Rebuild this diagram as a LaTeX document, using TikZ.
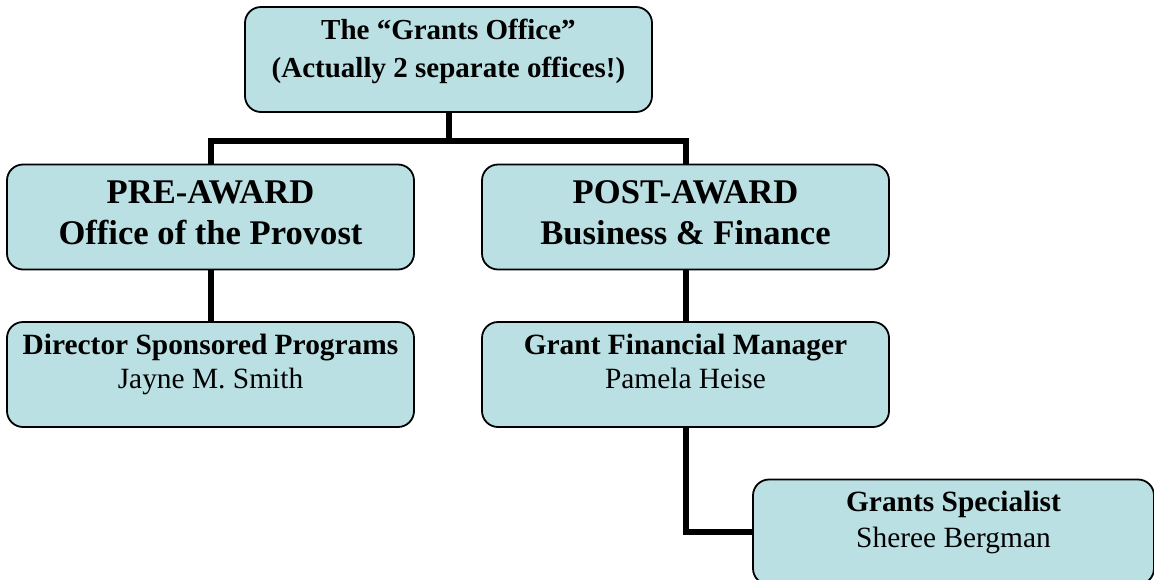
\documentclass[tikz,border=0pt]{standalone}
\usepackage{fontspec}
\setmainfont{Liberation Serif}
\definecolor{boxfill}{HTML}{BAE0E3}
\begin{document}
\begin{tikzpicture}[x=1pt,y=-1pt,
  box/.style={draw=black, line width=1.8pt, fill=boxfill, rounded corners=16pt,
    minimum width=407pt, minimum height=105pt, inner sep=0pt},
  conn/.style={draw=black, line width=6pt},
  txt/.style={align=center, inner sep=0pt},
  topfont/.style={font=\fontsize{29}{38}\selectfont\bfseries},
  bigfont/.style={font=\fontsize{34.6}{41}\selectfont\bfseries},
  smallfont/.style={font=\fontsize{29.4}{34}\selectfont},
  specfont/.style={font=\fontsize{29.4}{35.5}\selectfont}]
\useasboundingbox (0,0) rectangle (1154,579);
\clip (0,0) rectangle (1154,579);
\coordinate (jt) at (448.5,141);
\node[box] (top) at (448.5,59.5) {};
\node[box] (pre) at (210.5,217) {};
\node[box] (post) at (685.5,217) {};
\node[box] (dir) at (210.5,374.5) {};
\node[box] (gfm) at (685.5,374.5) {};
\node[box, minimum width=401pt] (spec) at (953.5,532) {};
\draw[conn] (top.south) -- (jt);
\draw[conn] (pre.north) |- (jt) -| (post.north);
\draw[conn] (pre.south) -- (dir.north);
\draw[conn] (post.south) -- (gfm.north);
\draw[conn] (gfm.south) |- (spec.west);
% texts
\node[txt, topfont] (ttop) at (448.5,50.9) {\strut The “Grants Office”\\\strut(Actually 2 separate offices!)};
\node[txt, bigfont] (tpre) at (210.5,215.3) {\strut PRE-AWARD\\\strut Office of the Provost};
\node[txt, bigfont] (tpost) at (685.5,215.3) {\strut POST-AWARD\\\strut Business \& Finance};
\node[txt, smallfont] (tdir) at (210.5,364.9) {\strut\textbf{Director Sponsored Programs}\\\strut Jayne M. Smith};
\node[txt, smallfont] (tgfm) at (685.5,364.9) {\strut\textbf{Grant Financial Manager}\\\strut Pamela Heise};
\node[txt, specfont] (tspec) at (953.5,522.4) {\strut\textbf{Grants Specialist}\\\strut Sheree Bergman};
\end{tikzpicture}
\end{document}
